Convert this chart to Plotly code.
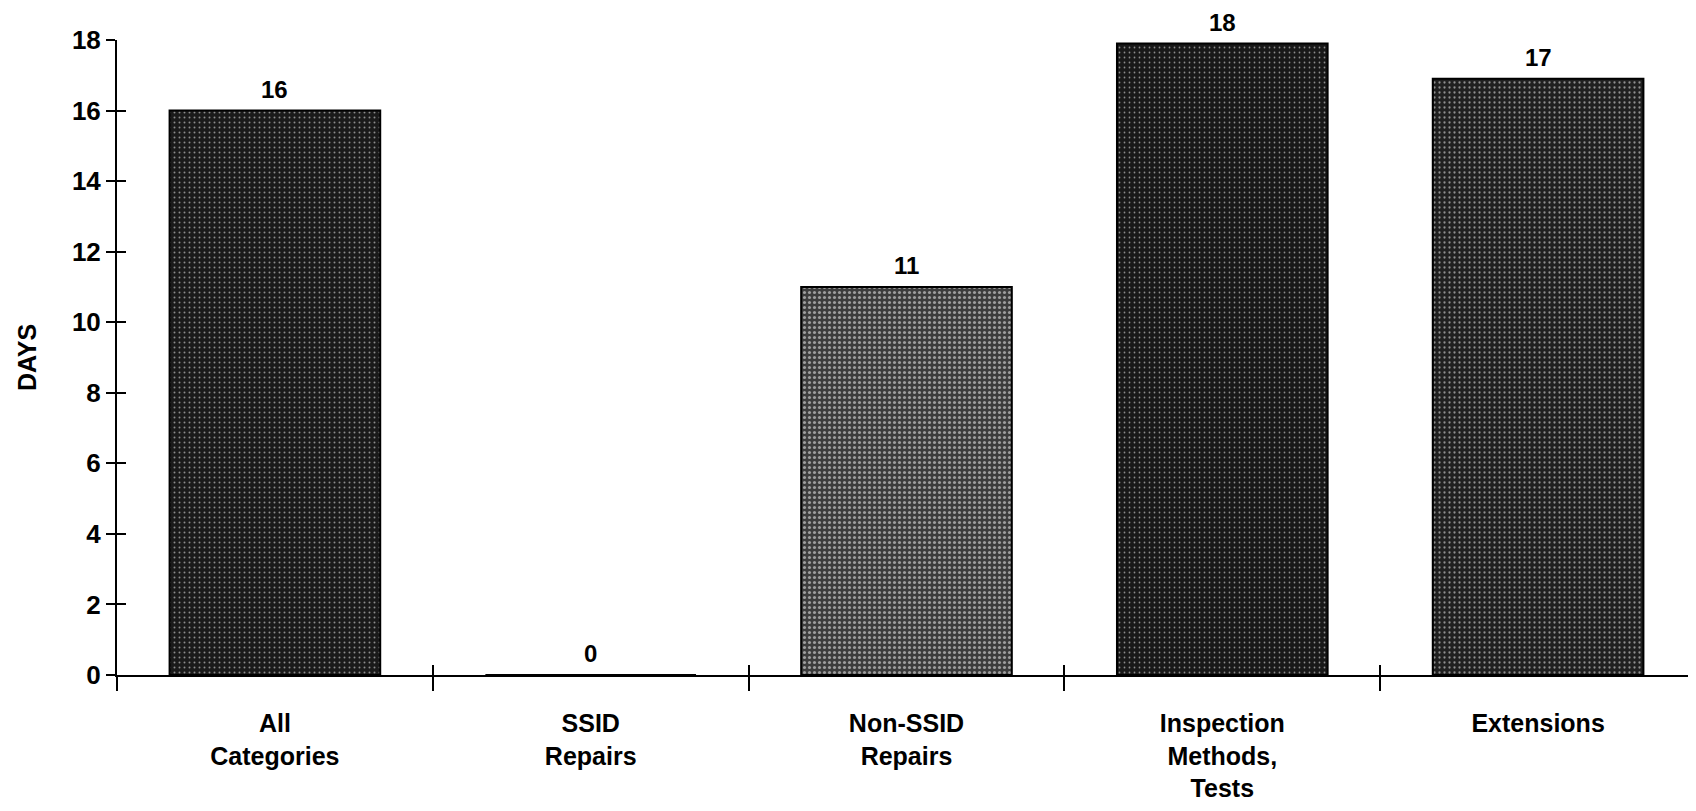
import plotly.graph_objects as go

categories = ["All<br>Categories", "SSID<br>Repairs", "Non-SSID<br>Repairs",
              "Inspection<br>Methods,<br>Tests", "Extensions"]
days = [16, 0, 11, 17.9, 16.9]
labels = ["16", "0", "11", "18", "17"]
y_ticks = [0, 2, 4, 6, 8, 10, 12, 14, 16, 18]

FONT = "Liberation Sans, Arial, sans-serif"
bar_colors = ["#1a1a1a", "#1a1a1a", "#3c3c3c", "#181818", "#202020"]
solid = [0.12, 0.12, 0.3, 0.1, 0.16]

fig = go.Figure()
fig.add_trace(go.Bar(
    x=categories, y=days, width=0.667,
    marker=dict(
        color=bar_colors,
        line=dict(color="black", width=2),
        pattern=dict(shape=".", fgcolor="#d8d8d8", size=5, solidity=solid,
                     fillmode="overlay"),
    ),
    hoverinfo="skip", showlegend=False,
))
# invisible trace to activate overlay axes (inside ticks -> crossing ticks)
fig.add_trace(go.Scatter(x=list(range(len(days))), y=days, mode="none",
                         xaxis="x2", yaxis="y2", hoverinfo="skip", showlegend=False))

for c, v, t in zip(categories, days, labels):
    fig.add_annotation(x=c, y=v, text=t, showarrow=False, yanchor="bottom",
                       yshift=7, borderpad=0,
                       font=dict(family=FONT, size=24, color="black", weight="bold"))

n = len(categories)
fig.update_layout(
    width=1688, height=803,
    margin=dict(l=109, r=0, t=32, b=136),
    paper_bgcolor="white", plot_bgcolor="white",
    font=dict(family=FONT, color="black"),
    bargap=0.333,
    xaxis=dict(
        type="category", range=[-0.5, n - 0.5],
        showline=True, linecolor="black", linewidth=2,
        ticks="outside", ticklen=14, tickwidth=2, tickcolor="black",
        tickson="boundaries", showgrid=False, zeroline=False,
        tickfont=dict(family=FONT, size=25, color="black", weight="bold"),
        ticklabelstandoff=25,
    ),
    yaxis=dict(
        range=[0, 18], tickvals=y_ticks,
        showline=True, linecolor="black", linewidth=2,
        ticks="outside", ticklen=9, tickwidth=2, tickcolor="black",
        showgrid=False, zeroline=False,
        tickfont=dict(family=FONT, size=26, color="black", weight="bold"),
        title=dict(text="DAYS", standoff=28,
                   font=dict(family=FONT, size=25, color="black", weight="bold")),
    ),
    xaxis2=dict(
        overlaying="x", range=[-0.5, n - 0.5],
        tickvals=[i + 0.5 for i in range(n)],
        ticks="inside", ticklen=10, tickwidth=2, tickcolor="black",
        showticklabels=False, showline=False, showgrid=False, zeroline=False,
    ),
    yaxis2=dict(
        overlaying="y", range=[0, 18], tickvals=y_ticks,
        ticks="inside", ticklen=9, tickwidth=2, tickcolor="black",
        showticklabels=False, showline=False, showgrid=False, zeroline=False,
    ),
)

fig.write_html("out.html")
